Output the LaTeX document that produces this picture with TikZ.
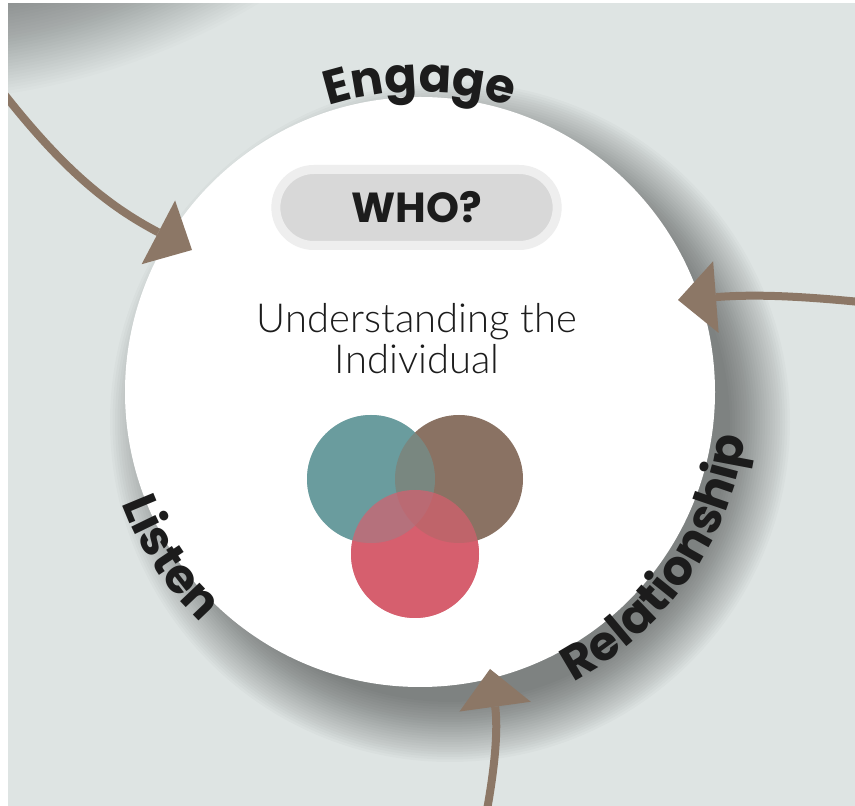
\documentclass[tikz,border=0pt]{standalone}
\usepackage{fontspec}
\newfontfamily\headfont{Poppins}
\newfontfamily\lightfont{Lato Light}
\usepackage{tikz}
\usetikzlibrary{arrows.meta,positioning,shapes.misc,decorations.text}

\definecolor{bgc}{HTML}{DEE4E3}
\definecolor{arrowc}{HTML}{8C7766}
\definecolor{pillc}{HTML}{D8D8D8}
\definecolor{ringc}{HTML}{EEEEEE}
\definecolor{inkc}{HTML}{1C1C1C}
\definecolor{tealc}{HTML}{6A9C9E}
\definecolor{brownc}{HTML}{8A7263}
\definecolor{redc}{HTML}{D65F6E}

\newcommand\arcfont{\fontsize{48}{48}\selectfont\headfont\bfseries\color{inkc}}

\begin{document}
\begin{tikzpicture}[x=1pt,y=1pt,>={Triangle[length=38pt,width=72pt,line width=0pt]}]
    \tikzset{flow/.style={->,color=arrowc,line width=8pt},
      venn/.style={circle,minimum size=128pt,inner sep=0pt},
      body/.style={anchor=base,font=\fontsize{40}{40}\selectfont\lightfont,text=inkc},
      arclabel/.style={decorate,decoration={text along path,text align=center,text={|\arcfont|#1}}}}
    \useasboundingbox (0,0) rectangle (855,806);
    \fill[bgc] (0,0) rectangle (855,806);
    % soft shadows
    \begin{scope}
      \clip (0,0) rectangle (855,806);
      \foreach \r in {600,603,...,702}
        \fill[black,opacity=0.012] (-100,1406) circle (\r);
      \foreach \r in {280,282.5,...,340}
        \fill[black,opacity=0.019] (450,384) circle (\r);
    \end{scope}
    \node[circle,fill=white,minimum size=590pt,inner sep=0pt] (hub) at (420,414) {};
    \node[rounded rectangle,fill=pillc,draw=ringc,line width=9pt,minimum width=288pt,minimum height=76pt,
      font=\fontsize{42}{42}\selectfont\headfont\bfseries,text=inkc] (who) at (416.5,598.5) {WHO?};
    \node[body] (und) at (417,473) {Understanding the};
    \node[body] (ind) at (417,432) {Individual};
    % venn
    \node[venn,fill=redc] (red) at (415,252) {};
    \node[venn,fill=tealc] (teal) at (371,327) {};
    \node[venn,fill=brownc] (brown) at (459,327) {};
    \fill[tealc,opacity=0.5] (teal.center) circle (64);
    \fill[redc,opacity=0.7] (red.center) circle (64);
    % arrows
    \coordinate (fromA) at (4,712);
    \coordinate (toA) at (192,556);
    \coordinate (fromB) at (860,504);
    \coordinate (toB) at (678,506);
    \coordinate (fromC) at (487,-4);
    \coordinate (toC) at (490,137);
    \path[flow]
    (fromA) edge [bend right=12] (toA)
    (fromB) edge [bend right=5] (toB)
    (fromC) edge [bend right=9] (toC);
    % labels round the hub
    \path[arclabel=Engage] ([shift={(130:300)}]hub.center) arc[start angle=130,end angle=50,radius=300];
    \path[arclabel=Relationship] ([shift={(-75:328)}]hub.center) arc[start angle=-75,end angle=5,radius=328];
    \path[arclabel=Listen] ([shift={(183:318)}]hub.center) arc[start angle=183,end angle=244,radius=318];
    \fill[white] (0,0) rectangle (8,806);
    \fill[white] (0,803) rectangle (855,806);
  \end{tikzpicture}
\end{document}
